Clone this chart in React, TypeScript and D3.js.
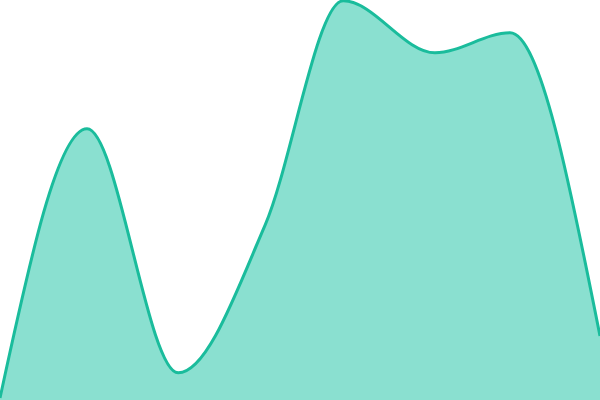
import * as d3 from 'd3';
import { useEffect, useRef } from 'react';

// x positions (arbitrary units 0..100) and values (0..100)
const xValues = [0, 14.5, 29.7, 44.2, 57.2, 72.5, 85, 100];
const yValues = [0.5, 67.8, 6.8, 43.8, 99.8, 86.8, 91.8, 16];

const width = 600;
const height = 400;

const App = () => {
  const ref = useRef<null | SVGSVGElement>(null);

  useEffect(() => {
    const data = xValues.map((x, i) => ({ x, y: yValues[i] }));

    const x = d3.scaleLinear().domain([0, 100]).range([0, width]);
    const y = d3.scaleLinear().domain([0, 100]).range([height, 0]);

    const svg = d3.select(ref.current);
    svg.selectAll('*').remove();

    const area = d3
      .area<{ x: number; y: number }>()
      .curve(d3.curveMonotoneX)
      .x((d) => x(d.x))
      .y0(height)
      .y1((d) => y(d.y));

    const line = d3
      .line<{ x: number; y: number }>()
      .curve(d3.curveMonotoneX)
      .x((d) => x(d.x))
      .y((d) => y(d.y));

    svg
      .append('path')
      .datum(data)
      .attr('fill', '#8ae0d0')
      .attr('d', area);

    svg
      .append('path')
      .datum(data)
      .attr('fill', 'none')
      .attr('stroke', '#1abc9c')
      .attr('stroke-width', 3)
      .attr('d', line);
  }, []);

  return (
    <svg
      ref={ref}
      width={width}
      height={height}
      style={{ position: 'absolute', left: 0, top: 0, background: '#fff' }}
    />
  );
};

export default App;
